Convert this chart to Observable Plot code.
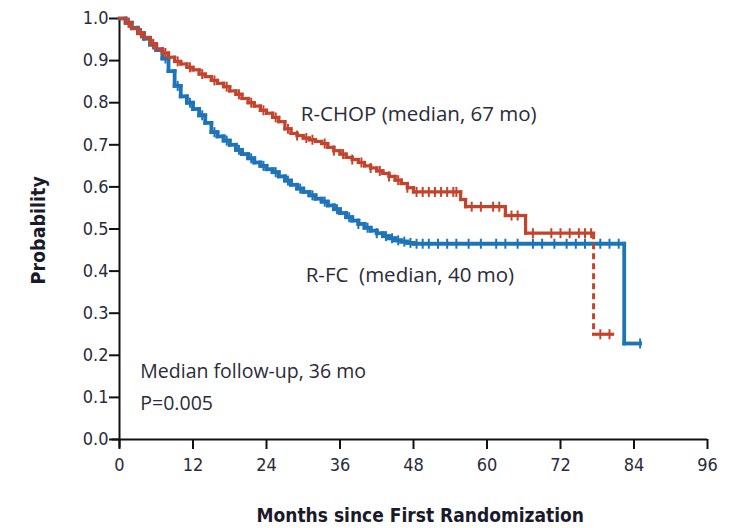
<!DOCTYPE html>
<html><head><meta charset="utf-8">
<script src="https://cdn.jsdelivr.net/npm/d3@7"></script>
<script src="https://cdn.jsdelivr.net/npm/@observablehq/plot@0.6"></script>
<style>
body{margin:0;background:#fff}
#chart svg{display:block}
#chart g[font-family*="Open Sans"]{font-stretch:normal}
</style>
</head><body><div id="chart"></div>
<script>
// ---- data ----
const rchopMonths = [0,1,2,3,4,5,6,7,8,9,10,11,12,13,14,15,16,17,18,19,20,21,22,23,24,25,26,27,28,29,30,31,32,33,34,35,36,37,38,39,40,41,42,43,44,45,46,47,48,55.7,56.5,63,66.3,77.4,80.5];
const rchopProb   = [1.0,0.99,0.976,0.965,0.955,0.94,0.928,0.918,0.908,0.898,0.892,0.884,0.878,0.868,0.862,0.853,0.846,0.838,0.828,0.82,0.81,0.80,0.792,0.782,0.775,0.765,0.755,0.738,0.727,0.722,0.716,0.712,0.708,0.703,0.694,0.686,0.678,0.67,0.665,0.658,0.65,0.645,0.638,0.632,0.625,0.616,0.608,0.598,0.588,0.57,0.553,0.532,0.49,0.25,0.25];
const rchopCensor = [1.5,3.5,5.5,7.5,9.5,11.5,13.5,15.5,17.5,19.5,21.5,23.5,25.5,27.5,29,30.5,31.5,33.5,35,36.5,38,39.5,41,42.5,44,45.5,47,48.5,49.5,50.5,51.5,52.5,53.5,54.5,55,57.5,59,61,62,64,65,67.5,70.5,72,73.5,75,76,77,78.5,80];

const rfcMonths = [0,1,2,3,4,5,6,7,8,9,10,11,12,13,14,15,16,17,18,19,20,21,22,23,24,25,26,27,28,29,30,31,32,33,34,35,36,37,38,39,40,41,42,43,44,45,46,47,48,82.4,85];
const rfcProb   = [1.0,0.99,0.978,0.965,0.952,0.938,0.925,0.905,0.875,0.84,0.815,0.8,0.785,0.77,0.752,0.73,0.72,0.71,0.7,0.688,0.678,0.668,0.658,0.65,0.642,0.635,0.625,0.615,0.605,0.596,0.588,0.58,0.572,0.565,0.556,0.547,0.538,0.528,0.52,0.512,0.503,0.496,0.49,0.483,0.478,0.473,0.47,0.467,0.465,0.228,0.228];
const rfcCensor = [1.5,3.5,5.5,7.5,9.5,11.5,13.5,15.5,17.5,19.5,21.5,23.5,25.5,27.5,29.5,31.5,33.5,35.5,37.5,39,40.5,42,43.5,44.5,45.5,46.5,47.5,48.5,49.5,50.5,52,53.5,55,57,59,61.5,63,65,67.5,69,71,73,74.5,76,78.5,80,81.5,85];

const xTicks = [0,12,24,36,48,60,72,84,96];
const yTicks = [0,0.1,0.2,0.3,0.4,0.5,0.6,0.7,0.8,0.9,1.0];
const seriesLabels = ["R-CHOP (median, 67 mo)", "R-FC  (median, 40 mo)"];
const noteLines = ["Median follow-up, 36 mo", "P=0.005"];
const xTitle = "Months since First Randomization";
const yTitle = "Probability";

// ---- helpers ----
const RED = "#c5432b", BLUE = "#1d74b9", INK = "#2b2b3a";
const NARROW = "'Liberation Sans Narrow','DejaVu Sans Condensed','Arial Narrow',sans-serif";
const TEXT = "'Open Sans','Noto Sans',sans-serif";

function segments(months, probs, name) {
  const segs = [];
  for (let i = 0; i < months.length - 1; i++) {
    segs.push({x1: months[i], y1: probs[i], x2: months[i+1], y2: probs[i], kind: "h", name});
    if (probs[i+1] !== probs[i]) segs.push({x1: months[i+1], y1: probs[i], x2: months[i+1], y2: probs[i+1], kind: "v", name});
  }
  return segs;
}
function stepAt(months, probs, t) {
  let p = probs[0];
  for (let i = 0; i < months.length; i++) if (months[i] <= t) p = probs[i];
  return p;
}
const redSegs = segments(rchopMonths, rchopProb, "R-CHOP");
const lastRedDrop = redSegs.filter(d => d.kind === "v").slice(-1)[0];
const redSolid = redSegs.filter(d => d !== lastRedDrop);
const blueSegs = segments(rfcMonths, rfcProb, "R-FC");
const redCens = rchopCensor.map(t => ({t, p: stepAt(rchopMonths, rchopProb, t)}));
const blueCens = rfcCensor.map(t => ({t, p: stepAt(rfcMonths, rfcProb, t)}));

const vbar = {draw(ctx, size) { const r = Math.sqrt(size / Math.PI); ctx.moveTo(0, -r); ctx.lineTo(0, r); }};

const chart = Plot.plot({
  width: 736, height: 528,
  marginLeft: 119, marginRight: 29, marginTop: 18, marginBottom: 89,
  x: {domain: [0, 96]},
  y: {domain: [0, 1]},
  style: {fontFamily: NARROW, fontStretch: "condensed", background: "#fff", overflow: "visible"},
  marks: [
    Plot.axisX({ticks: xTicks, tickSize: 10, tickPadding: 9, fontSize: 18, label: null, stroke: "#111", strokeWidth: 2, color: INK}),
    Plot.axisY({ticks: yTicks, tickFormat: d3.format(".1f"), tickSize: 10, tickPadding: 1, fontSize: 18, label: null, stroke: "#111", strokeWidth: 2, color: INK}),
    Plot.ruleY([0], {stroke: "#111", strokeWidth: 2, x1: -1.2, x2: 96}),
    Plot.ruleX([0], {stroke: "#111", strokeWidth: 2, y1: -0.02, y2: 1}),
    // curves
    Plot.link(blueSegs, {x1: "x1", y1: "y1", x2: "x2", y2: "y2", stroke: BLUE, strokeWidth: 3.8, strokeLinecap: "square"}),
    Plot.dot(blueCens, {x: "t", y: "p", symbol: vbar, r: 5, stroke: BLUE, strokeWidth: 2}),
    Plot.link(redSolid, {x1: "x1", y1: "y1", x2: "x2", y2: "y2", stroke: RED, strokeWidth: 3.2, strokeLinecap: "square"}),
    Plot.link([lastRedDrop], {x1: "x1", y1: "y1", x2: "x2", y2: "y2", stroke: RED, strokeWidth: 3, strokeDasharray: "6,4"}),
    Plot.dot(redCens, {x: "t", y: "p", symbol: vbar, r: 5, stroke: RED, strokeWidth: 2}),
    // labels
    Plot.text([seriesLabels[0]], {x: 29.6, y: 0.773, text: d => d, textAnchor: "start", fontFamily: TEXT, fontSize: 20.5, fill: INK}),
    Plot.text([seriesLabels[1]], {x: 30.4, y: 0.389, text: d => d, textAnchor: "start", fontFamily: TEXT, fontSize: 20.5, fill: INK}),
    Plot.text([noteLines[0]], {x: 3.4, y: 0.161, text: d => d, textAnchor: "start", fontFamily: TEXT, fontSize: 19.5, fill: INK}),
    Plot.text([noteLines[1]], {x: 3.4, y: 0.085, text: d => d, textAnchor: "start", fontFamily: TEXT, fontSize: 19.5, fill: INK}),
    Plot.text([xTitle], {x: 49.1, y: -0.181, text: d => d, fontWeight: "bold", fontSize: 19, fill: "#1a1a2a"}),
    Plot.text([yTitle], {x: -13.2, y: 0.497, rotate: -90, text: d => d, fontWeight: "bold", fontSize: 19.5, fill: "#1a1a2a"})
  ]
});
document.getElementById("chart").append(chart);
</script>
</body></html>
